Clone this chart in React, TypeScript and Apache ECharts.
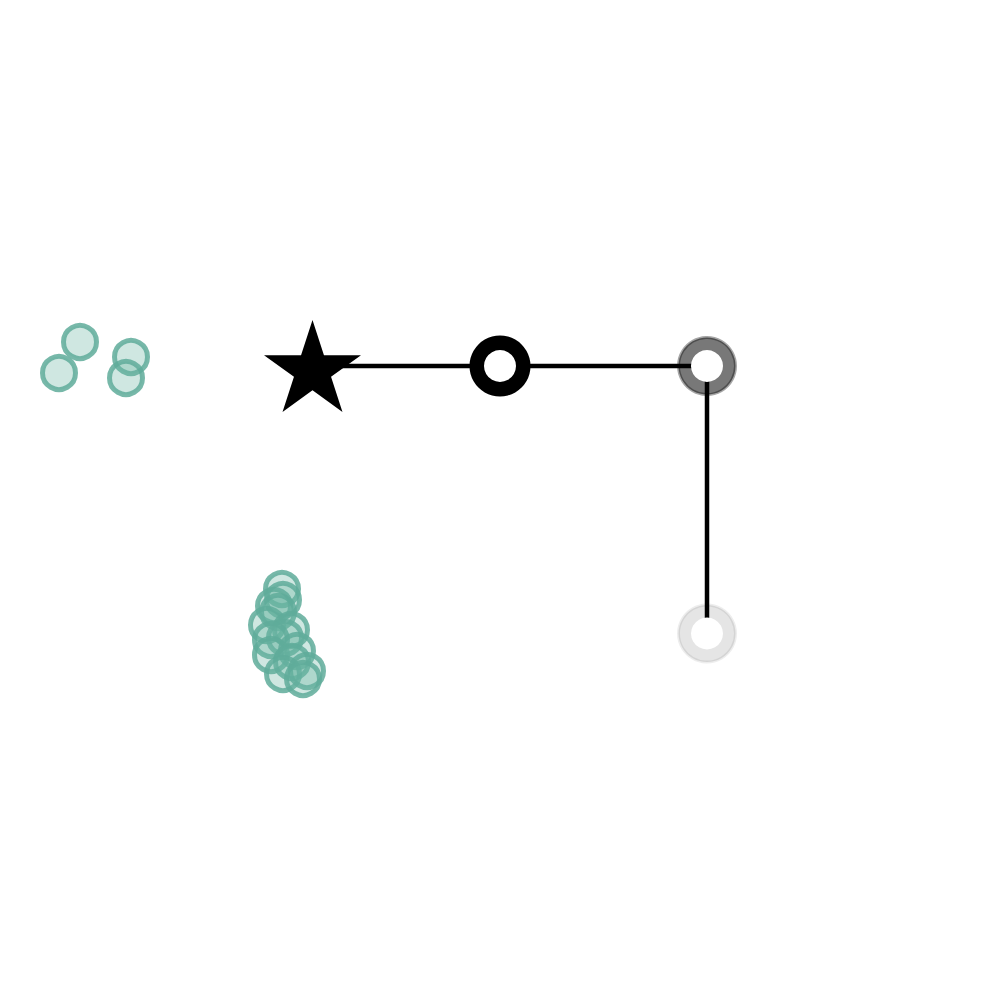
import * as echarts from "echarts";
import { useEffect, useRef } from "react";

// data units: x 0..10 across, y 0..10 bottom-up
const tealClusterA = [
  [0.8, 6.58],
  [0.59, 6.27],
  [1.31, 6.43],
  [1.26, 6.22],
];

const tealClusterB = [
  [2.82, 4.11],
  [2.83, 4.0],
  [2.74, 3.94],
  [2.78, 3.88],
  [2.67, 3.75],
  [2.91, 3.7],
  [2.85, 3.62],
  [2.71, 3.6],
  [2.71, 3.45],
  [2.97, 3.49],
  [2.92, 3.38],
  [2.83, 3.26],
  [3.07, 3.29],
  [3.03, 3.21],
];

const routePoints = [
  [3.125, 6.34],
  [7.07, 6.34],
  [7.07, 3.665],
];

const startNode = [3.125, 6.34];
const blackNode = [5.0, 6.34];
const greyNode = [7.07, 6.34];
const lightNode = [7.07, 3.665];

const STAR =
  "path://M50 0 L61.23 34.55 L97.55 34.55 L68.17 55.9 L79.39 90.45 L50 69.1 L20.61 90.45 L31.83 55.9 L2.45 34.55 L38.77 34.55 Z";

export default function App() {
  const chartRef = useRef<HTMLDivElement | null>(null);

  useEffect(() => {
    if (!chartRef.current) return;
    const chart = echarts.init(chartRef.current, null, { renderer: "svg" });

    const teal = {
      type: "scatter",
      symbol: "circle",
      symbolSize: 33,
      z: 1,
      itemStyle: {
        color: "rgba(105,179,162,0.32)",
        borderColor: "rgba(95,172,154,0.85)",
        borderWidth: 5,
        opacity: 1,
      },
      silent: true,
    };

    chart.setOption({
      animation: false,
      grid: { left: 0, right: 0, top: 0, bottom: 0 },
      xAxis: { type: "value", min: 0, max: 10, show: false },
      yAxis: { type: "value", min: 0, max: 10, show: false },
      series: [
        { ...teal, data: tealClusterA },
        { ...teal, data: tealClusterB },
        {
          type: "line",
          z: 2,
          data: routePoints,
          symbol: "none",
          lineStyle: { color: "#000", width: 4.5 },
          silent: true,
        },
        {
          type: "scatter",
          z: 3,
          data: [blackNode],
          symbolSize: 61,
          itemStyle: { color: "#000", opacity: 1 },
          silent: true,
        },
        {
          type: "scatter",
          z: 3,
          data: [greyNode],
          symbolSize: 57,
          itemStyle: {
            color: "rgba(0,0,0,0.53)",
            borderColor: "rgba(0,0,0,0.35)",
            borderWidth: 3,
            opacity: 1,
          },
          silent: true,
        },
        {
          type: "scatter",
          z: 3,
          data: [lightNode],
          symbolSize: 57,
          itemStyle: {
            color: "rgba(0,0,0,0.1)",
            borderColor: "rgba(0,0,0,0.07)",
            borderWidth: 3,
            opacity: 1,
          },
          silent: true,
        },
        {
          type: "scatter",
          z: 4,
          data: [blackNode, greyNode, lightNode],
          symbolSize: 32,
          itemStyle: { color: "#fff", opacity: 1 },
          silent: true,
        },
        {
          type: "scatter",
          z: 5,
          data: [startNode],
          symbol: STAR,
          symbolSize: [97, 92],
          itemStyle: { color: "#000", opacity: 1 },
          silent: true,
        },
      ],
    });

    return () => {
      chart.dispose();
    };
  }, []);

  return (
    <div
      ref={chartRef}
      style={{ position: "absolute", left: 0, top: 0, width: 1000, height: 1000, background: "#fff" }}
    />
  );
}
